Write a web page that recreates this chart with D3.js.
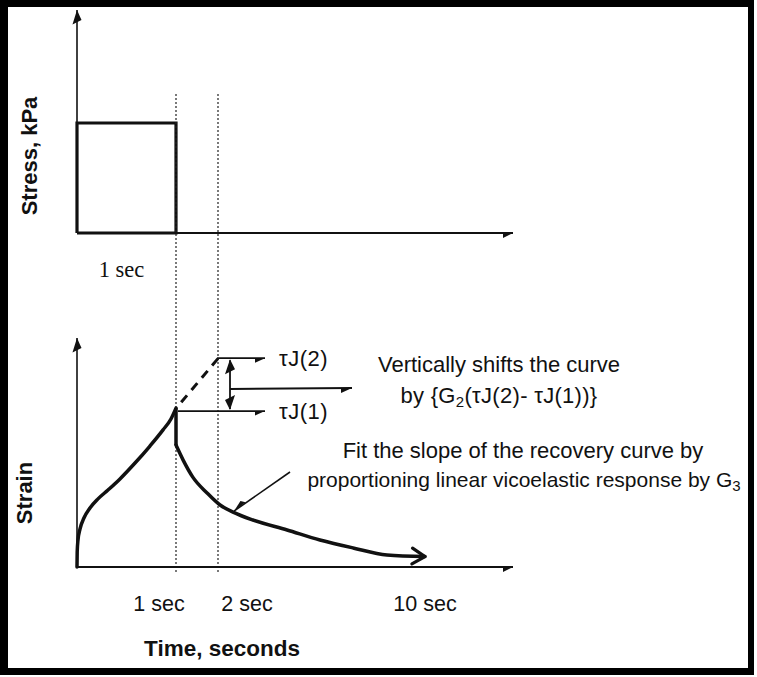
<!DOCTYPE html>
<html><head><meta charset="utf-8">
<script src="https://cdn.jsdelivr.net/npm/d3@7"></script>
<style>html,body{margin:0;padding:0;background:#fff;} svg{display:block;}</style>
</head><body>
<script>
// Time axis breakpoints (seconds) shared by both panels
const timeBreaks = [0, 1, 2, 10];
// Stress pulse: load held for 1 s, then removed
const pulseTime = [0, 0, 1, 1, 0];
const pulseStress = [0, 1, 1, 0, 0];
// Creep strain while loaded (relative units)
const loadTime = [0, 0.002, 0.01, 0.03, 0.07, 0.131, 0.212, 0.313, 0.434, 0.586, 0.737, 0.869, 0.949, 1.0];
const loadStrain = [0, 6.6, 11.9, 16.7, 21.6, 26.0, 30.0, 33.9, 38.8, 45.8, 53.3, 60.4, 65.2, 70.0];
// Recovery strain after the load is removed
const recoveryTime = [1.0, 1.17, 1.40, 1.74, 2.08, 2.58, 3.35, 4.67, 5.94, 7.22, 8.53, 10];
const recoveryStrain = [53.7, 47.1, 39.6, 32.6, 27.3, 24.2, 20.7, 16.3, 11.9, 8.4, 5.3, 4.6];
// Extrapolated creep from 1 s to 2 s
const extrapTime = [1, 2];
const extrapStrain = [70.0, 92.0];
const tauJ1 = 70.0, tauJ2 = 92.0;
// Time tick labels
const tickTimes = [1, 2, 10];
const tickLabels = ["1 sec", "2 sec", "10 sec"];

const W = 757, H = 677;
const svg = d3.select("body").append("svg").attr("width", W).attr("height", H);
svg.append("rect").attr("width", W).attr("height", H).attr("fill", "#fff");

const x = d3.scaleLinear().domain(timeBreaks).range([77, 176, 218, 425]);
const yStress = d3.scaleLinear().domain([0, 1]).range([233, 123]);
const yStrain = d3.scaleLinear().domain([0, 100]).range([567, 340]);
const axisRight = 513;
const ink = "#111";

// filled triangular arrow head
function head(tx, ty, ang, len = 10, half = 4.5) {
  const c = Math.cos(ang), s = Math.sin(ang);
  const bx = tx - c * len, by = ty - s * len;
  return `M${tx},${ty}L${bx - s * half},${by + c * half}L${bx + s * half},${by - s * half}Z`;
}
function arrow(g, x1, y1, x2, y2, w = 1.6, len = 10, half = 4.5) {
  g.append("line").attr("x1", x1).attr("y1", y1).attr("x2", x2).attr("y2", y2)
    .attr("stroke", ink).attr("stroke-width", w);
  g.append("path").attr("d", head(x2, y2, Math.atan2(y2 - y1, x2 - x1), len, half)).attr("fill", ink);
}

// ---- Upper panel: stress ----
const stressPanel = svg.append("g");
arrow(stressPanel, x(0), yStress(0), x(0), 10, 1.6, 10, 4.5);
arrow(stressPanel, x(0), yStress(0), axisRight, yStress(0), 2.2, 10, 5);
stressPanel.append("path")
  .attr("d", d3.line().x((d, i) => x(pulseTime[i])).y((d, i) => yStress(pulseStress[i]))(pulseTime))
  .attr("fill", "none").attr("stroke", ink).attr("stroke-width", 3.2).attr("stroke-linejoin", "miter");
stressPanel.append("text").attr("x", x(0.45)).attr("y", 277).attr("text-anchor", "middle")
  .attr("font-family", "Liberation Serif, Times New Roman, serif").attr("font-size", 22.5)
  .attr("fill", ink).text("1 sec");
stressPanel.append("text").attr("transform", `translate(37,156) rotate(-90)`).attr("text-anchor", "middle")
  .attr("font-family", "Liberation Sans, Arial, sans-serif").attr("font-weight", "bold")
  .attr("font-size", 22).attr("fill", ink).text("Stress, kPa");

// dotted guides at 1 s and 2 s
[1, 2].forEach(t => {
  svg.append("line").attr("x1", x(t)).attr("x2", x(t)).attr("y1", 94).attr("y2", 574)
    .attr("stroke", "#222").attr("stroke-width", 1.2).attr("stroke-dasharray", "2,2");
});

// ---- Lower panel: strain ----
const strainPanel = svg.append("g");
arrow(strainPanel, x(0), yStrain(0), x(0), 338, 1.6, 10, 4.5);
arrow(strainPanel, x(0), yStrain(0), axisRight, yStrain(0), 2.2, 10, 5);

const lineP = d3.line().curve(d3.curveMonotoneX);
const loadPts = loadTime.map((t, i) => [x(t), yStrain(loadStrain[i])]);
const recPts = recoveryTime.map((t, i) => [x(t), yStrain(recoveryStrain[i])]);
strainPanel.append("path").attr("d", lineP(loadPts)).attr("fill", "none").attr("stroke", ink)
  .attr("stroke-width", 3.5).attr("stroke-linecap", "round");
strainPanel.append("line").attr("x1", x(1)).attr("x2", x(1)).attr("y1", yStrain(loadStrain[loadStrain.length - 1]))
  .attr("y2", yStrain(recoveryStrain[0])).attr("stroke", ink).attr("stroke-width", 3.5);
strainPanel.append("path").attr("d", lineP(recPts)).attr("fill", "none").attr("stroke", ink)
  .attr("stroke-width", 3.5).attr("stroke-linecap", "round");
// open arrow head at end of recovery curve
{
  const [ex, ey] = recPts[recPts.length - 1], [px, py] = recPts[recPts.length - 2];
  const a = Math.atan2(ey - py, ex - px), L = 15, spread = 0.55;
  const p1 = [ex - L * Math.cos(a - spread), ey - L * Math.sin(a - spread)];
  const p2 = [ex - L * Math.cos(a + spread), ey - L * Math.sin(a + spread)];
  strainPanel.append("path").attr("d", `M${p1}L${ex},${ey}L${p2}`).attr("fill", "none")
    .attr("stroke", ink).attr("stroke-width", 3.2).attr("stroke-linecap", "round").attr("stroke-linejoin", "round");
}
// extrapolated (dashed) creep
strainPanel.append("path").attr("d", d3.line()(extrapTime.map((t, i) => [x(t) + 2, yStrain(extrapStrain[i]) - 2])))
  .attr("stroke", ink).attr("stroke-width", 3).attr("stroke-dasharray", "9,7").attr("stroke-dashoffset", -5)
  .attr("fill", "none");

// tauJ markers
const yJ2 = yStrain(tauJ2), yJ1 = yStrain(tauJ1) + 3;
arrow(strainPanel, x(2) - 1, yJ2, 265, yJ2, 1.8, 10, 4.5);
arrow(strainPanel, x(1) + 2, yJ1, 265, yJ1, 1.8, 10, 4.5);
// double-headed vertical shift arrow
const vx = 230;
strainPanel.append("line").attr("x1", vx).attr("x2", vx).attr("y1", yJ2 + 2).attr("y2", yJ1 - 2)
  .attr("stroke", ink).attr("stroke-width", 1.8);
strainPanel.append("path").attr("d", head(vx, yJ2 + 1, -Math.PI / 2, 10, 5)).attr("fill", ink);
strainPanel.append("path").attr("d", head(vx, yJ1 - 1, Math.PI / 2, 10, 5)).attr("fill", ink);
arrow(strainPanel, vx, 389, 352, 388, 2, 11, 5);

const sans = "Liberation Sans, Arial, sans-serif";
function label(g, tx, ty, anchor, size, weight) {
  return g.append("text").attr("x", tx).attr("y", ty).attr("text-anchor", anchor)
    .attr("font-family", sans).attr("font-size", size).attr("font-weight", weight || "normal").attr("fill", ink);
}
label(strainPanel, 279, yJ2 + 8, "start", 22).attr("letter-spacing", 0.5).text("\u03C4J(2)");
label(strainPanel, 279, yJ1 + 8, "start", 22).attr("letter-spacing", 0.5).text("\u03C4J(1)");

label(strainPanel, 499, 372, "middle", 22).text("Vertically shifts the curve");
{
  const t = label(strainPanel, 499, 403, "middle", 22).attr("letter-spacing", 0.3);
  t.append("tspan").text("by {G");
  t.append("tspan").attr("font-size", 15).attr("dy", 4).text("2");
  t.append("tspan").attr("dy", -4).text("(\u03C4J(2)- \u03C4J(1))}");
}
label(strainPanel, 523, 458, "middle", 22).text("Fit the slope of the recovery curve by");
{
  const t = label(strainPanel, 524, 487, "middle", 21);
  t.append("tspan").text("proportioning linear vicoelastic response by G");
  t.append("tspan").attr("font-size", 15).attr("dy", 4).text("3");
}
// pointer to the recovery curve
arrow(strainPanel, 290, 472, x(2.58) + 1, yStrain(24.2) - 1, 1.6, 11, 4.5);

// time ticks
const tickDx = [-17, 29, 0];
tickTimes.forEach((t, i) => {
  label(strainPanel, x(t) + tickDx[i], 611, "middle", 21.5).text(tickLabels[i]);
});
label(strainPanel, 222, 656, "middle", 22.5, "bold").text("Time, seconds");
strainPanel.append("text").attr("transform", `translate(32,493) rotate(-90)`).attr("text-anchor", "middle")
  .attr("font-family", sans).attr("font-weight", "bold").attr("font-size", 22).attr("fill", ink).text("Strain");

// frame
const frame = svg.append("g").attr("fill", "#000");
frame.append("rect").attr("x", 0).attr("y", 0).attr("width", 754).attr("height", 7);
frame.append("rect").attr("x", 0).attr("y", 0).attr("width", 8).attr("height", 675);
frame.append("rect").attr("x", 748).attr("y", 0).attr("width", 6).attr("height", 675);
frame.append("rect").attr("x", 0).attr("y", 668).attr("width", 754).attr("height", 7);
</script>
</body></html>
